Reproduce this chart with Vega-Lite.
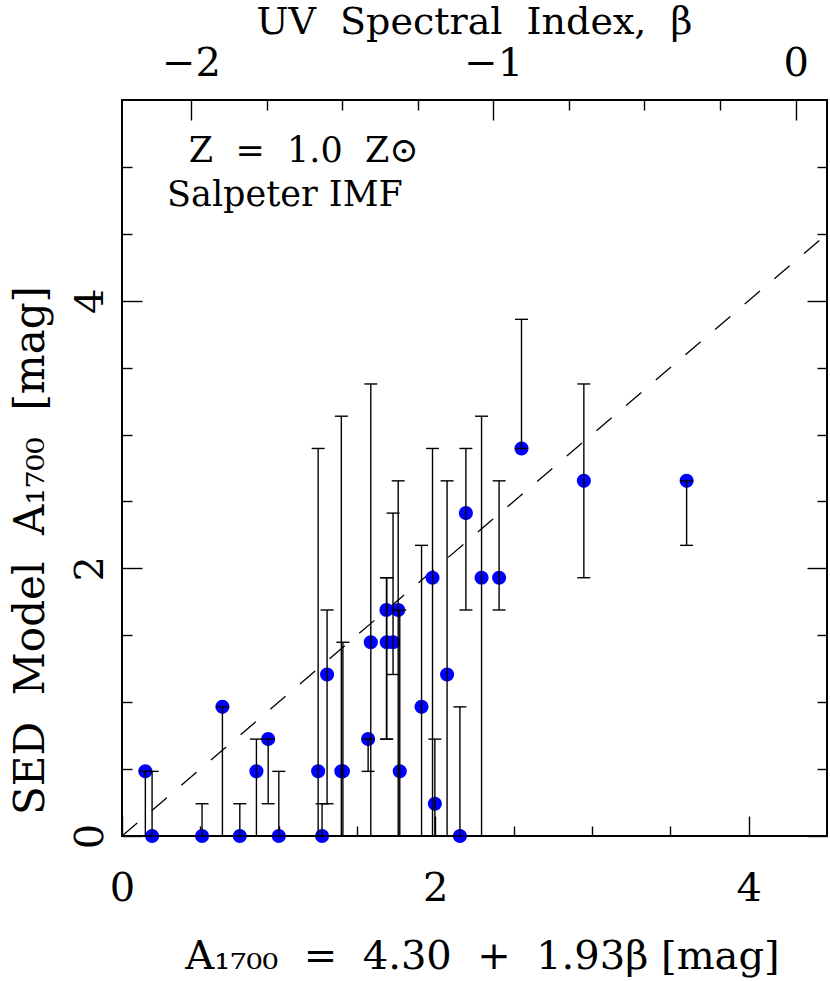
{
  "$schema": "https://vega.github.io/schema/vega-lite/v6.json",
  "width": 705,
  "height": 736,
  "autosize": {"type": "none"},
  "padding": {"left": 122, "top": 100, "right": 3, "bottom": 145},
  "background": "white",
  "config": {
    "view": {"stroke": "black", "strokeWidth": 2},
    "axis": {
      "domain": false, "grid": false,
      "labelFont": "DejaVu Serif", "titleFont": "DejaVu Serif",
      "labelFontSize": 40, "titleFontSize": 40,
      "labelColor": "black", "titleColor": "black",
      "titleFontWeight": "normal", "labelFontWeight": "normal",
      "tickColor": "black", "tickWidth": 1.4,
      "labelFlush": false, "labelOverlap": false
    }
  },
  "datasets": {
    "pts": [
      {"a": 0.149, "s": 0.483, "lo": 0, "hi": 0.483},
      {"a": 0.192, "s": 0, "lo": 0, "hi": 0.483},
      {"a": 0.511, "s": 0, "lo": 0, "hi": 0.241},
      {"a": 0.641, "s": 0.965, "lo": 0, "hi": 0.965},
      {"a": 0.752, "s": 0, "lo": 0, "hi": 0.241},
      {"a": 0.858, "s": 0.483, "lo": 0, "hi": 0.724},
      {"a": 0.933, "s": 0.724, "lo": 0.241, "hi": 0.724},
      {"a": 1.001, "s": 0, "lo": 0, "hi": 0.483},
      {"a": 1.252, "s": 0.483, "lo": 0, "hi": 2.896},
      {"a": 1.277, "s": 0, "lo": 0, "hi": 0.241},
      {"a": 1.309, "s": 1.207, "lo": 0.241, "hi": 1.689},
      {"a": 1.400, "s": 0.483, "lo": 0, "hi": 3.137},
      {"a": 1.410, "s": 0.483, "lo": 0, "hi": 1.448},
      {"a": 1.571, "s": 0.724, "lo": 0.483, "hi": 0.724},
      {"a": 1.588, "s": 1.448, "lo": 0, "hi": 3.378},
      {"a": 1.688, "s": 1.689, "lo": 0.724, "hi": 1.930},
      {"a": 1.690, "s": 1.448, "lo": 0.724, "hi": 1.930},
      {"a": 1.730, "s": 1.448, "lo": 1.207, "hi": 2.413},
      {"a": 1.763, "s": 1.689, "lo": 0, "hi": 2.654},
      {"a": 1.773, "s": 0.483, "lo": 0, "hi": 1.689},
      {"a": 1.912, "s": 0.965, "lo": 0, "hi": 2.172},
      {"a": 1.982, "s": 1.930, "lo": 0, "hi": 2.896},
      {"a": 1.997, "s": 0.241, "lo": 0, "hi": 0.724},
      {"a": 2.075, "s": 1.207, "lo": 0, "hi": 2.654},
      {"a": 2.157, "s": 0, "lo": 0, "hi": 0.965},
      {"a": 2.195, "s": 2.413, "lo": 1.689, "hi": 2.896},
      {"a": 2.295, "s": 1.930, "lo": 0, "hi": 3.137},
      {"a": 2.407, "s": 1.930, "lo": 1.689, "hi": 2.654},
      {"a": 2.550, "s": 2.896, "lo": 2.896, "hi": 3.861},
      {"a": 2.948, "s": 2.654, "lo": 1.930, "hi": 3.378},
      {"a": 3.604, "s": 2.654, "lo": 2.172, "hi": 2.654}
    ],
    "diag": [{"a": 0, "s": 0}, {"a": 4.5, "s": 4.5}],
    "notes": [
      {"a": 1.16, "s": 5.12, "label": "Z \u00a0= \u00a01.0 \u00a0Z⊙"},
      {"a": 1.04, "s": 4.79, "label": "Salpeter IMF"}
    ]
  },
  "resolve": {"axis": {"x": "independent", "y": "independent"}},
  "layer": [
    {
      "data": {"name": "diag"},
      "mark": {"type": "line", "color": "black", "strokeWidth": 1.3, "strokeDash": [20, 19]},
      "encoding": {
        "x": {"field": "a", "type": "quantitative", "scale": {"domain": [0, 4.5], "nice": false, "zero": false},
          "axis": {"orient": "bottom", "values": [0, 2, 4], "ticks": false, "labelPadding": 32, "labelBaseline": "top",
            "title": "A₁₇₀₀ \u00a0= \u00a04.30 \u00a0+ \u00a01.93β [mag]", "titleX": 360, "titleY": 132, "titleBaseline": "alphabetic", "titleAnchor": "middle", "titleAlign": "center"}},
        "y": {"field": "s", "type": "quantitative", "scale": {"domain": [0, 5.5], "nice": false, "zero": false},
          "axis": {"orient": "left", "values": [0, 2, 4], "ticks": false, "labelAngle": -90, "labelAlign": "center", "labelBaseline": "bottom", "labelPadding": 12,
            "title": "SED \u00a0Model \u00a0A₁₇₀₀ \u00a0[mag]", "titleFontSize": 42, "titleAngle": -90, "titleX": -92, "titleY": 450, "titleBaseline": "middle", "titleAlign": "center"}}
      }
    },
    {
      "data": {"name": "pts"},
      "mark": {"type": "circle", "size": 200, "color": "#0000ff", "opacity": 1},
      "encoding": {
        "x": {"field": "a", "type": "quantitative", "scale": {"domain": [0, 4.5], "nice": false, "zero": false},
          "axis": {"orient": "bottom", "values": [0, 2, 4], "tickSize": -20, "labels": false, "title": null}},
        "y": {"field": "s", "type": "quantitative", "scale": {"domain": [0, 5.5], "nice": false, "zero": false},
          "axis": {"orient": "left", "values": [0, 2, 4], "tickSize": -20, "labels": false, "title": null}}
      }
    },
    {
      "data": {"name": "pts"},
      "mark": {"type": "rule", "color": "black", "strokeWidth": 1.4},
      "encoding": {
        "x": {"field": "a", "type": "quantitative", "scale": {"domain": [0, 4.5], "nice": false, "zero": false},
          "axis": {"orient": "bottom", "values": [0.5, 1, 1.5, 2.5, 3, 3.5], "tickSize": -10, "labels": false, "title": null}},
        "y": {"field": "lo", "type": "quantitative", "scale": {"domain": [0, 5.5], "nice": false, "zero": false},
          "axis": {"orient": "left", "values": [0.5, 1, 1.5, 2.5, 3, 3.5, 4.5, 5], "tickSize": -10, "labels": false, "title": null}},
        "y2": {"field": "hi"}
      }
    },
    {
      "data": {"name": "pts"},
      "mark": {"type": "tick", "orient": "horizontal", "color": "black", "size": 13, "thickness": 1.4, "opacity": 1},
      "encoding": {
        "x": {"field": "a", "type": "quantitative", "scale": {"domain": [0, 4.5], "nice": false, "zero": false},
          "axis": {"orient": "top", "values": [0.44, 2.37, 4.30], "tickSize": -20, "labels": false, "title": null}},
        "y": {"field": "lo", "type": "quantitative", "scale": {"domain": [0, 5.5], "nice": false, "zero": false},
          "axis": {"orient": "right", "values": [0, 2, 4], "tickSize": -20, "labels": false, "title": null}}
      }
    },
    {
      "data": {"name": "pts"},
      "mark": {"type": "tick", "orient": "horizontal", "color": "black", "size": 13, "thickness": 1.4, "opacity": 1},
      "encoding": {
        "x": {"field": "a", "type": "quantitative", "scale": {"domain": [0, 4.5], "nice": false, "zero": false},
          "axis": {"orient": "top", "values": [0.9225, 1.405, 1.8875, 2.8525, 3.335, 3.8175], "tickSize": -10, "labels": false, "title": null}},
        "y": {"field": "hi", "type": "quantitative", "scale": {"domain": [0, 5.5], "nice": false, "zero": false},
          "axis": {"orient": "right", "values": [0.5, 1, 1.5, 2.5, 3, 3.5, 4.5, 5], "tickSize": -10, "labels": false, "title": null}}
      }
    },
    {
      "data": {"name": "notes"},
      "mark": {"type": "text", "font": "DejaVu Serif", "fontSize": 35, "color": "black", "align": "center", "baseline": "middle"},
      "encoding": {
        "x": {"field": "a", "type": "quantitative", "scale": {"domain": [0, 4.5], "nice": false, "zero": false},
          "axis": {"orient": "top", "values": [0.44, 2.37, 4.30], "ticks": false, "labelPadding": 17, "labelBaseline": "bottom",
            "labelExpr": "abs(datum.value-0.44)<0.01 ? '−2' : (abs(datum.value-2.37)<0.01 ? '−1' : '0')",
            "title": "UV \u00a0Spectral \u00a0Index, \u00a0β", "titleFontSize": 38, "titleX": 352, "titleY": -67, "titleBaseline": "alphabetic", "titleAlign": "center", "titleAnchor": "middle"}},
        "y": {"field": "s", "type": "quantitative", "scale": {"domain": [0, 5.5], "nice": false, "zero": false}, "axis": null},
        "text": {"field": "label"}
      }
    }
  ]
}
